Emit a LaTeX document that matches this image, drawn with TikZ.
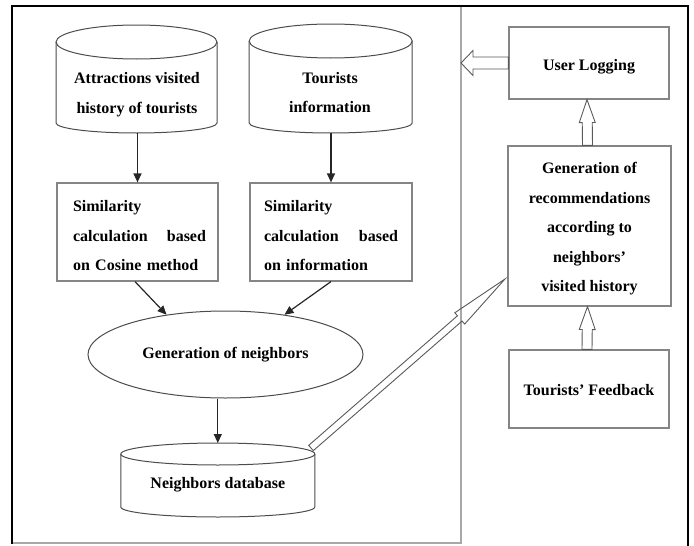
\documentclass[tikz,border=0pt]{standalone}
\usepackage{fontspec}
\setmainfont{Liberation Serif}
\usetikzlibrary{calc,shapes.geometric,arrows.meta}
\definecolor{edgegray}{HTML}{858585}
\definecolor{framegray}{HTML}{A8A8A8}

% database cylinder: centre x, top-ellipse y, bottom y, x radius, top y radius, bottom y radius
\newcommand\drawdb[6]{%
  \draw[dbline] (#1,#2) ellipse [x radius=#4, y radius=#5];
  \draw[dbline] (#1-#4,#2) -- (#1-#4,#3)
    arc [start angle=180, end angle=0, x radius=#4, y radius=#6] -- (#1+#4,#2);
}
% outlined block arrow: from, to, shaft half width, head half width, head length
\newcommand\fatarrow[5]{%
  \draw[hollow] ($(#1)!#3!90:(#2)$)
    -- ($(#2)!#5!(#1)!#3!-90:(#1)$)
    -- ($(#2)!#5!(#1)!#4!-90:(#1)$)
    -- (#2)
    -- ($(#2)!#5!(#1)!#4!90:(#1)$)
    -- ($(#2)!#5!(#1)!#3!90:(#1)$)
    -- ($(#1)!#3!-90:(#2)$) -- cycle;
}

\begin{document}
\begin{tikzpicture}[x=1pt,y=-1pt,
  lbl/.style={font=\fontsize{16}{29.5}\selectfont\bfseries, inner sep=0pt, align=center},
  box/.style={draw=edgegray, line width=1.2pt, inner sep=0pt},
  dbline/.style={draw=black!70, line width=1pt},
  arr/.style={draw=black!85, line width=1.2pt, -{Triangle[length=9pt,width=8pt]}},
  hollow/.style={draw=black!65, line width=0.9pt, line join=miter}]
\useasboundingbox (0,0) rectangle (694,546);

% panel frames
\draw[framegray, line width=2pt] (12,543) -- (461,543) -- (461,6);
\draw[black, line width=2pt] (12,544) -- (12,6) -- (688,6) -- (688,546);

% databases
\drawdb{136.5}{42}{123}{80.5}{17}{10}
\drawdb{330.7}{41}{123}{81.5}{17}{10}
\drawdb{217.8}{454}{507}{97}{11}{10}
\node[lbl] (c1) at (137,94.5) {Attractions visited\\history of tourists};
\node[lbl] (c2) at (330,92.5) {Tourists\\information};
\node[lbl] (c3) at (217.8,485) {Neighbors database};
\coordinate (c1b) at (137.5,133);
\coordinate (c2b) at (331,133);
\coordinate (c3t) at (217.8,443);
\coordinate (c3r) at (311,448);

% similarity boxes
\node[box, minimum width=161pt, minimum height=98pt] (b1) at (137.5,232) {};
\node[box, minimum width=162pt, minimum height=98pt] (b2) at (331,232) {};
\node[lbl, text width=133pt, align=left] (b1t) at ([xshift=2pt,yshift=-4pt]b1.center)
  {Similarity\\calculation\hfill based\\on Cosine method};
\node[lbl, text width=134pt, align=left] (b2t) at ([yshift=-4pt]b2.center)
  {Similarity\\calculation\hfill based\\on information};

% neighbour generation
\node[lbl, draw=black!70, line width=1pt, ellipse, minimum width=275pt, minimum height=87pt]
  (gen) at (225.5,354.5) {Generation of neighbors};

\draw[arr] (c1b) -- (c1b |- b1.north);
\draw[arr] (c2b) -- (c2b |- b2.north);
\draw[arr] ([xshift=-2.5pt]b1.south) -- (gen.146);
\draw[arr] (b2.south) -- (gen.34);
\draw[arr] (gen.south -| c3t) -- (c3t);

% right panel
\node[box, minimum width=160pt, minimum height=72pt] (ul) at (589,63) {};
\node[box, minimum width=163pt, minimum height=160pt] (rec) at (589.5,226) {};
\node[box, minimum width=160pt, minimum height=78pt] (fb) at (589,389) {};
\node[lbl] (ult) at ([yshift=-4pt]ul.center) {User Logging};
\node[lbl] (rect) at ([yshift=-3pt]rec.center)
  {Generation of\\recommendations\\according to\\neighbors'\\visited history};
\node[lbl] (fbt) at ([yshift=-1pt]fb.center) {Tourists' Feedback};

\coordinate (ulTip) at (461,63);
\coordinate (recTop) at ([xshift=-2pt]rec.north);
\coordinate (ulBot) at ([xshift=-2pt]ul.south);
\coordinate (fbTop) at ([xshift=-2pt]fb.north);
\coordinate (recBot) at ([xshift=-2pt]rec.south);
\coordinate (recIn) at (505,279);

\fatarrow{ul.west}{ulTip}{6pt}{12.5pt}{12pt}
\fatarrow{recTop}{ulBot}{5pt}{8pt}{23pt}
\fatarrow{fbTop}{recBot}{5pt}{8pt}{23pt}
\fatarrow{c3r}{recIn}{3.5pt}{7.5pt}{60pt}
\end{tikzpicture}
\end{document}
